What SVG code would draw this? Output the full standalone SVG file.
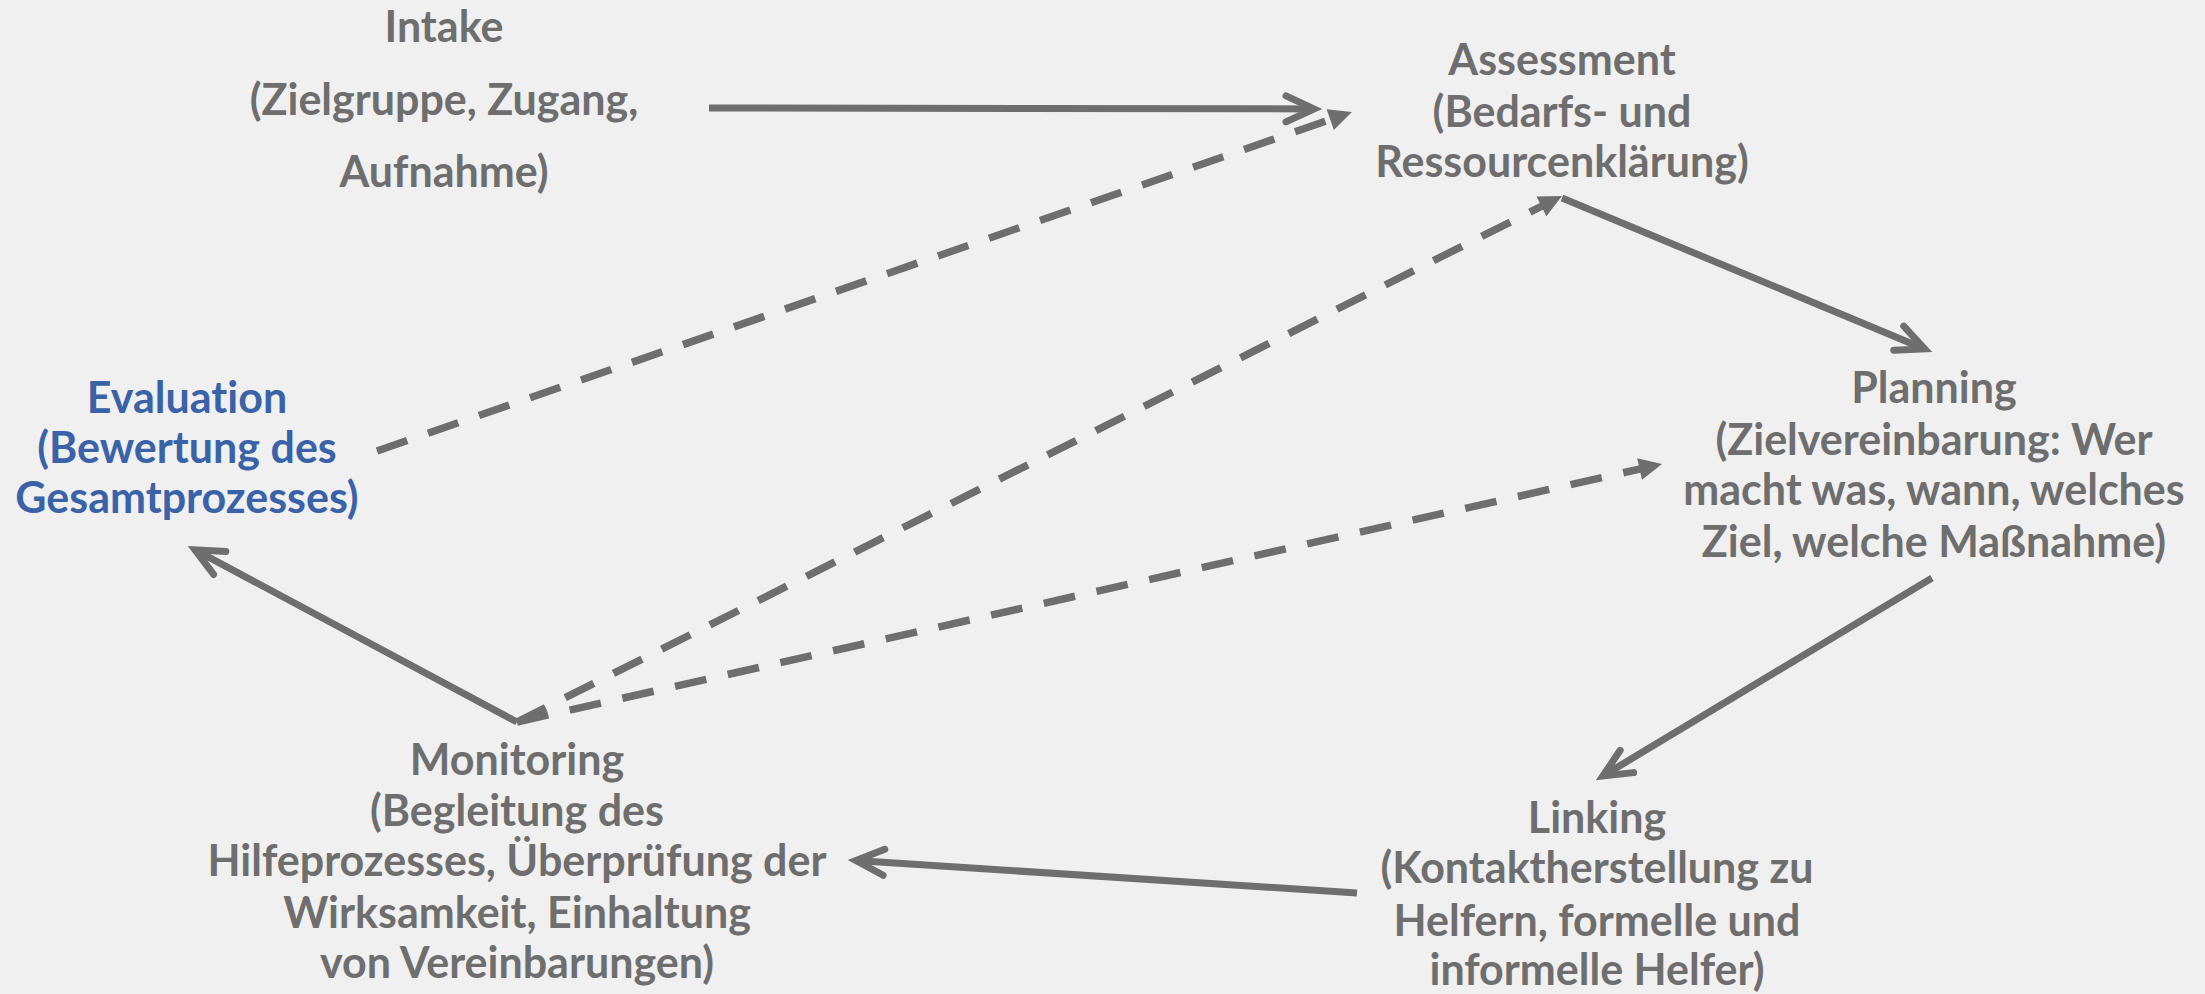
<svg xmlns="http://www.w3.org/2000/svg" width="2205" height="994" viewBox="0 0 2205 994">
  <style>
    .lbl { font-family: Lato, "Open Sans", "Liberation Sans", sans-serif; font-weight: bold; font-size: 43px; fill: #6e6e6e; text-anchor: middle; font-variant-ligatures: none; }
    .blue { fill: #3a62a9; }
    .solid { fill: none; stroke: #6e6e6e; stroke-width: 7; }
    .dash { fill: none; stroke: #6e6e6e; stroke-width: 7.5; stroke-dasharray: 32 22; }
  </style>
  <defs>
    <marker id="chev" markerUnits="userSpaceOnUse" orient="auto" refX="0" refY="0" markerWidth="60" markerHeight="60" viewBox="-40 -30 60 60" overflow="visible">
      <path d="M -28,-13 L 0,0 L -28,13" fill="none" stroke="#6e6e6e" stroke-width="7" stroke-linecap="round" stroke-linejoin="miter" stroke-miterlimit="10"/>
    </marker>
    <marker id="tri" markerUnits="userSpaceOnUse" orient="auto" refX="0" refY="0" markerWidth="60" markerHeight="60" viewBox="-30 -30 60 60" overflow="visible">
      <path d="M -3,-11 L 20,0 L -3,11 Z" fill="#6e6e6e"/>
    </marker>
  </defs>

  <rect x="0" y="0" width="2205" height="994" fill="#f0f0f0"/>

  <g id="connectors">
    <!-- main cycle -->
    <path class="solid" d="M 709,108 L 1314,108.9" marker-end="url(#chev)"/>
    <path class="solid" d="M 1562,198 L 1924.6,348.9" marker-end="url(#chev)"/>
    <path class="solid" d="M 1932,578 L 1602.9,775.9" marker-end="url(#chev)"/>
    <path class="solid" d="M 1357,893 L 856,860.5" marker-end="url(#chev)"/>
    <path class="solid" d="M 517,722 L 195,549.8" marker-end="url(#chev)"/>
    <!-- feedback loops -->
    <path class="dash" d="M 377,451 L 1333.1,118.6" marker-end="url(#tri)"/>
    <path class="dash" d="M 517,722 L 1544.1,205" marker-end="url(#tri)"/>
    <path class="dash" d="M 517,722 L 1642.5,468.4" marker-end="url(#tri)"/>
  </g>

  <g id="intake">
    <text class="lbl" x="444" y="42">Intake</text>
    <text class="lbl" x="444" y="115">(Zielgruppe, Zugang,</text>
    <text class="lbl" x="444" y="187">Aufnahme)</text>
  </g>

  <g id="assessment">
    <text class="lbl" x="1562" y="75">Assessment</text>
    <text class="lbl" x="1562" y="127">(Bedarfs- und</text>
    <text class="lbl" x="1562" y="177">Ressourcenklärung)</text>
  </g>

  <g id="planning">
    <text class="lbl" x="1934" y="403">Planning</text>
    <text class="lbl" x="1934" y="455">(Zielvereinbarung: Wer</text>
    <text class="lbl" x="1934" y="505">macht was, wann, welches</text>
    <text class="lbl" x="1934" y="557">Ziel, welche Maßnahme)</text>
  </g>

  <g id="linking">
    <text class="lbl" x="1597" y="833">Linking</text>
    <text class="lbl" x="1597" y="883">(Kontaktherstellung zu</text>
    <text class="lbl" x="1597" y="936">Helfern, formelle und</text>
    <text class="lbl" x="1597" y="985">informelle Helfer)</text>
  </g>

  <g id="monitoring">
    <text class="lbl" x="517" y="775">Monitoring</text>
    <text class="lbl" x="517" y="826">(Begleitung des</text>
    <text class="lbl" x="517" y="876">Hilfeprozesses, Überprüfung der</text>
    <text class="lbl" x="517" y="928">Wirksamkeit, Einhaltung</text>
    <text class="lbl" x="517" y="978">von Vereinbarungen)</text>
  </g>

  <g id="evaluation">
    <text class="lbl blue" x="187" y="413">Evaluation</text>
    <text class="lbl blue" x="187" y="463">(Bewertung des</text>
    <text class="lbl blue" x="187" y="513">Gesamtprozesses)</text>
  </g>
</svg>
